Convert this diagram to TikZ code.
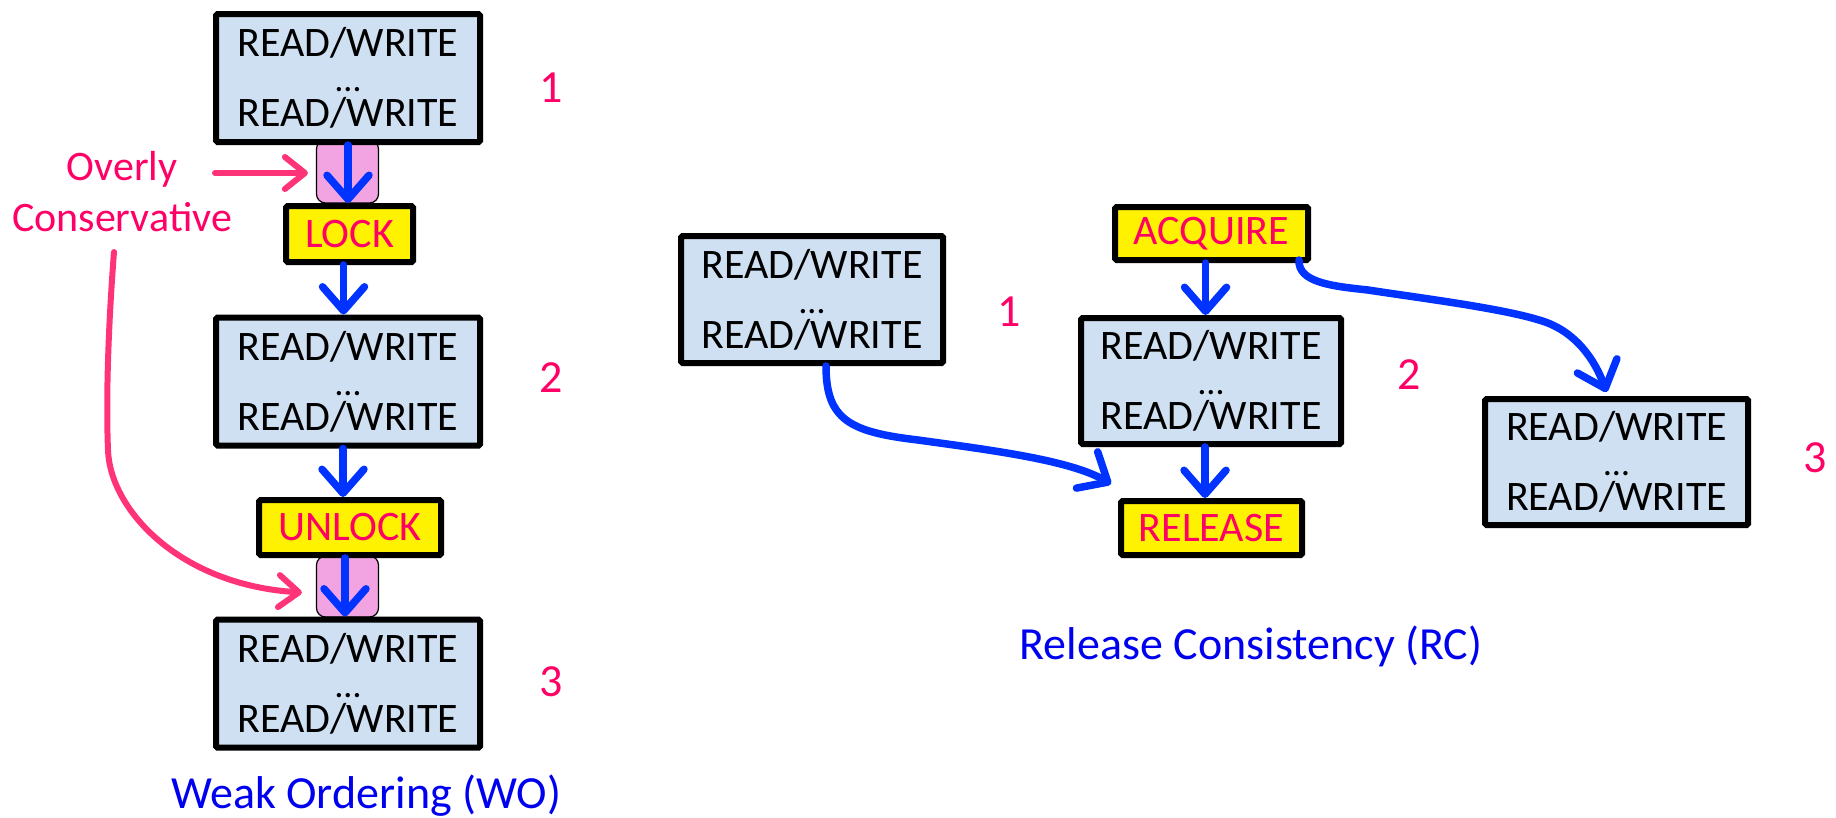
\documentclass[tikz,border=0pt]{standalone}
\usepackage{fontspec}
\setmainfont{Carlito}
\usetikzlibrary{arrows.meta,calc}
\definecolor{boxblue}{RGB}{207,224,242}
\definecolor{pinkfill}{RGB}{242,164,226}
\definecolor{redtxt}{RGB}{255,0,102}
\definecolor{pinkarrow}{RGB}{255,51,119}
\definecolor{arrowblue}{RGB}{0,51,255}
\definecolor{titleblue}{RGB}{0,0,240}
\newcommand{\rwtext}{READ/WRITE\\[-35pt]{\fontsize{36}{40}\selectfont …}\\[-35pt]READ/WRITE}
\begin{document}
\begin{tikzpicture}[x=1pt,y=-1pt,
  rw/.style={draw=black, line width=6pt, fill=boxblue, rounded corners=1.5pt,
    minimum width=264pt, minimum height=128pt, inner sep=0pt, align=center,
    font=\fontsize{42}{70}\selectfont},
  syncbox/.style={draw=black, line width=6pt, fill=yellow, rounded corners=1.5pt,
    inner sep=0pt, text=redtxt, font=\fontsize{42}{50}\selectfont},
  pinkbox/.style={draw=black, line width=1.2pt, fill=pinkfill, rounded corners=9pt,
    minimum width=62pt, inner sep=0pt},
  num/.style={text=redtxt, inner sep=0pt, font=\fontsize{46}{50}\selectfont},
  title/.style={text=titleblue, inner sep=0pt, anchor=base, font=\fontsize{46}{50}\selectfont},
  note/.style={text=redtxt, inner sep=0pt, align=center, font=\fontsize{42}{51}\selectfont},
  barrow/.style={draw=arrowblue, line width=7.5pt, line cap=round,
    -{Straight Barb[length=24pt,width=42pt,round]}},
  parrow/.style={draw=pinkarrow, line width=6pt, line cap=round,
    -{Straight Barb[length=20pt,width=32pt,round]}},
]
\useasboundingbox (0,0) rectangle (1836,817);

% ---------- Weak Ordering ----------
\node[pinkbox, minimum height=63pt] (pink1) at (347.5,171.5) {};
\node[pinkbox, minimum height=61pt] (pink2) at (347.5,586.5) {};

\node[rw] (b1) at (348,78) {\rwtext};
\node[syncbox, minimum width=127pt, minimum height=56pt] (lock) at (349.5,234) {LOCK};
\node[rw] (b2) at (348,381.5) {\rwtext};
\node[syncbox, minimum width=182pt, minimum height=55pt] (unlock) at (350,527.5) {UNLOCK};
\node[rw] (b3) at (348,683.5) {\rwtext};

\node[num] (n1) at (551,88) {1};
\node[num] (n2) at (551,378) {2};
\node[num] (n3) at (551,682) {3};

\node[note] (oc) at (122,192) {Overly\\Conservative};
\node[title] (wo) at (366,808) {Weak Ordering (WO)};

\coordinate (p1s) at (215,173);
\coordinate (p2s) at (114,252);
\draw[parrow] (p1s) -- ($(pink1.west)+(-8,1.5)$);
\draw[parrow] (p2s) .. controls (108,330) and (106,400) .. (108,450)
  .. controls (110,510) and (180,585) .. ($(pink2.west)+(-14,6)$);

\draw[barrow] (b1.south) -- (b1.south |- lock.north);
\draw[barrow] ($(lock.south)+(-6,0)$) -- ($(lock.south |- b2.north)+(-6,0)$);
\draw[barrow] ($(b2.south)+(-5,0)$) -- ($(b2.south |- unlock.north)+(-5,0)$);
\draw[barrow] ($(unlock.south)+(-5,0)$) -- ($(unlock.south |- b3.north)+(-5,0)$);

% ---------- Release Consistency ----------
\node[rw, minimum width=262pt, minimum height=127pt] (r1) at (812,299.5) {\rwtext};
\node[syncbox, minimum width=193pt, minimum height=53pt] (acq) at (1211.5,233.5) {ACQUIRE};
\node[rw, minimum width=260pt, minimum height=126pt] (r2) at (1211,381) {\rwtext};
\node[syncbox, minimum width=181pt, minimum height=54pt] (rel) at (1211.5,528) {RELEASE};
\node[rw, minimum width=263pt, minimum height=126pt] (r3) at (1616.5,462) {\rwtext};

\node[num] (m1) at (1009,312) {1};
\node[num] (m2) at (1409,375) {2};
\node[num] (m3) at (1815,458) {3};

\node[title] (rc) at (1251,659) {Release Consistency (RC)};

\draw[barrow] ($(acq.south)+(-6,0)$) -- ($(acq.south |- r2.north)+(-6,0)$);
\draw[barrow] ($(r2.south)+(-6,0)$) -- ($(r2.south |- rel.north)+(-6,0)$);
\draw[barrow] ($(r1.south)+(14,0)$) .. controls (826,420) and (850,432) .. (918,440)
  .. controls (990,450) and (1070,460) .. ($(rel.north west)+(-7,-14)$);
\draw[barrow] ($(acq.south east)+(-12,-3)$) .. controls (1298,282) and (1330,286) .. (1368,290)
  .. controls (1420,298) and (1500,308) .. (1539,320)
  .. controls (1575,330) and (1595,360) .. ($(r3.north)+(-10,-4)$);
\end{tikzpicture}
\end{document}
